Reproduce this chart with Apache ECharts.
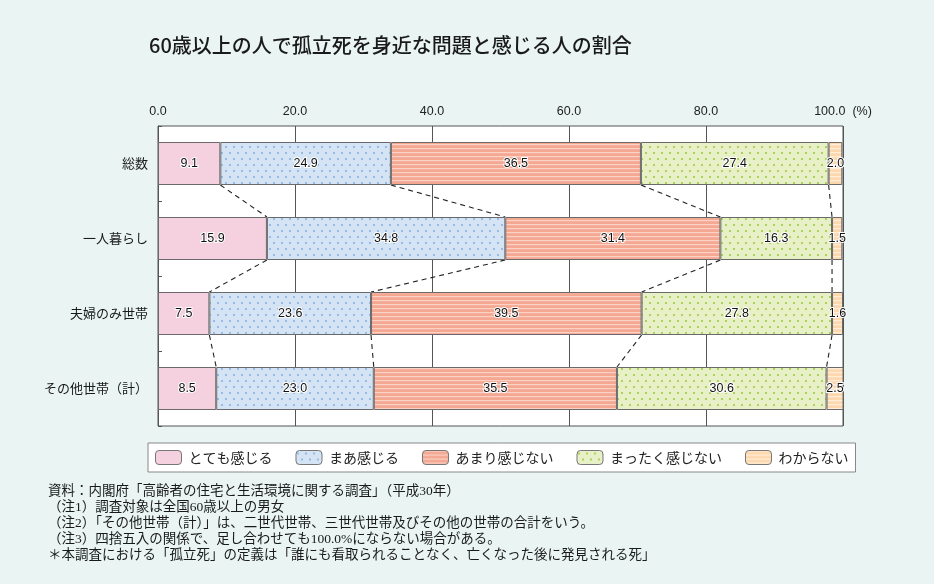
<!DOCTYPE html>
<html>
<head>
<meta charset="utf-8">
<script src="https://cdn.jsdelivr.net/npm/echarts@6/dist/echarts.min.js"></script>
<style>
html,body{margin:0;padding:0;background:#E9F4F3;}
#chart{width:934px;height:584px;}
</style>
</head>
<body>
<div id="chart"></div>
<script>
// ---- data ----
const categories = ['総数', '一人暮らし', '夫婦のみ世帯', 'その他世帯（計）'];
const seriesNames = ['とても感じる', 'まあ感じる', 'あまり感じない', 'まったく感じない', 'わからない'];
const veryMuch = [9.1, 15.9, 7.5, 8.5];
const somewhat = [24.9, 34.8, 23.6, 23.0];
const notMuch = [36.5, 31.4, 39.5, 35.5];
const notAtAll = [27.4, 16.3, 27.8, 30.6];
const unknown = [2.0, 1.5, 1.6, 2.5];
const xTicks = [0, 20, 40, 60, 80, 100];
const titleText = '60歳以上の人で孤立死を身近な問題と感じる人の割合';
const notes = [
  '資料：内閣府「高齢者の住宅と生活環境に関する調査」（平成30年）',
  '（注1）調査対象は全国60歳以上の男女',
  '（注2）「その他世帯（計）」は、二世代世帯、三世代世帯及びその他の世帯の合計をいう。',
  '（注3）四捨五入の関係で、足し合わせても100.0%にならない場合がある。',
  '＊本調査における「孤立死」の定義は「誰にも看取られることなく、亡くなった後に発見される死」'
];

// ---- patterns ----
function dotPattern(bg, dot) {
  const c = document.createElement('canvas');
  c.width = 8; c.height = 12;
  const ctx = c.getContext('2d');
  ctx.fillStyle = bg; ctx.fillRect(0, 0, 8, 12);
  ctx.fillStyle = dot;
  ctx.beginPath(); ctx.arc(2, 3, 1.1, 0, Math.PI * 2); ctx.fill();
  ctx.beginPath(); ctx.arc(6, 9, 1.1, 0, Math.PI * 2); ctx.fill();
  return { image: c, repeat: 'repeat' };
}
function stripePattern(bg, line) {
  const c = document.createElement('canvas');
  c.width = 4; c.height = 4;
  const ctx = c.getContext('2d');
  ctx.fillStyle = bg; ctx.fillRect(0, 0, 4, 4);
  ctx.fillStyle = line; ctx.fillRect(0, 0, 4, 1.2);
  return { image: c, repeat: 'repeat' };
}

const fills = [
  '#F5D0DF',
  dotPattern('#D5E4F4', '#89B1E0'),
  stripePattern('#F4A791', '#FBD3C6'),
  dotPattern('#E7F0C7', '#A2CB45'),
  stripePattern('#FDD8AE', '#FFEEDA')
];
const allValues = [veryMuch, somewhat, notMuch, notAtAll, unknown];

const BAR_W = 43;

// connecting dashed lines between boundaries of adjacent bars
const cum = categories.map((_, ci) => {
  let s = 0; const out = [];
  for (let k = 0; k < 4; k++) { s += allValues[k][ci]; out.push(+s.toFixed(1)); }
  return out;
});
const linkData = [];
for (let ci = 0; ci < categories.length - 1; ci++) {
  for (let k = 0; k < 4; k++) linkData.push([cum[ci][k], cum[ci + 1][k], ci]);
}

const barSeries = seriesNames.map((name, i) => ({
  name: name,
  type: 'bar',
  stack: 'total',
  barWidth: BAR_W,
  data: allValues[i],
  itemStyle: { color: fills[i], borderColor: '#6a6a6a', borderWidth: 1 },
  label: {
    show: true,
    position: 'inside',
    formatter: p => p.value.toFixed(1),
    color: '#111',
    fontSize: 12.5,
    fontFamily: 'Liberation Sans, Arial, sans-serif',
    textBorderColor: '#ffffff',
    textBorderWidth: 2
  },
  emphasis: { disabled: true },
  z: 3
}));

const linkSeries = {
  type: 'custom',
  data: linkData,
  encode: { x: [0, 1], y: 2 },
  silent: true,
  z: 2,
  renderItem: function (params, api) {
    const ci = api.value(2);
    const p1 = api.coord([api.value(0), ci]);
    const p2 = api.coord([api.value(1), ci + 1]);
    return {
      type: 'line',
      shape: { x1: p1[0], y1: p1[1] + BAR_W / 2, x2: p2[0], y2: p2[1] - BAR_W / 2 },
      style: { stroke: '#222', lineWidth: 1.1, lineDash: [5, 4] }
    };
  }
};

const chart = echarts.init(document.getElementById('chart'), null, { renderer: 'canvas' });
chart.setOption({
  backgroundColor: '#E9F4F3',
  animation: false,
  title: {
    text: titleText,
    left: 144, top: 30,
    textStyle: { fontSize: 20, fontWeight: 500, color: '#1a1a1a', fontFamily: 'Noto Sans CJK JP, sans-serif' }
  },
  grid: {
    left: 158, right: 91, top: 126, height: 300,
    show: true, backgroundColor: '#ffffff', borderColor: '#555', borderWidth: 1
  },
  legend: {
    data: seriesNames,
    left: 148, top: 443,
    backgroundColor: '#ffffff',
    borderColor: '#888', borderWidth: 1,
    padding: [7, 7, 7, 7],
    itemWidth: 26, itemHeight: 14, itemGap: 23,
    textStyle: { fontSize: 14, color: '#222', fontFamily: 'Noto Sans CJK JP, sans-serif', padding: [0, 0, 0, 2] },
    selectedMode: false,
    itemStyle: { borderColor: '#777', borderWidth: 1 }
  },
  xAxis: {
    type: 'value',
    position: 'top',
    min: 0, max: 100, interval: 20,
    axisLine: { show: false },
    axisTick: { show: false },
    splitLine: { show: true, lineStyle: { color: '#555', width: 1 } },
    axisLabel: {
      margin: 8,
      color: '#222',
      fontSize: 12.5,
      fontFamily: 'Liberation Sans, Arial, sans-serif',
      formatter: v => (xTicks.indexOf(v) >= 0 ? (v === 100 ? '100.0  (%)' : v.toFixed(1)) : '')
    }
  },
  yAxis: {
    type: 'category',
    inverse: true,
    data: categories,
    axisLine: { show: true, lineStyle: { color: '#555' } },
    axisTick: { show: true, inside: true, length: 4, lineStyle: { color: '#555' } },
    axisLabel: { margin: 10, color: '#1a1a1a', fontSize: 13, fontFamily: 'Noto Sans CJK JP, sans-serif' }
  },
  series: barSeries.concat([linkSeries]),
  graphic: [{
    type: 'text',
    left: 48, top: 484,
    silent: true,
    style: {
      text: notes.join('\n'),
      fontSize: 13.5,
      lineHeight: 15.8,
      fill: '#1a1a1a',
      fontFamily: 'Liberation Serif, Noto Sans CJK JP, serif'
    }
  }]
});
</script>
</body>
</html>
